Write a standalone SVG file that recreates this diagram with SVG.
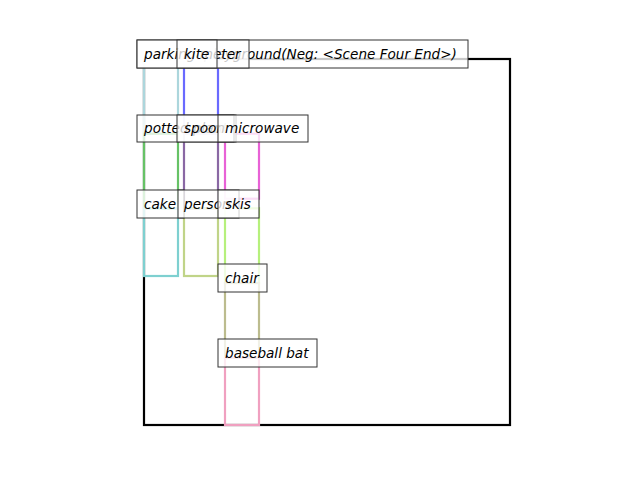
<svg xmlns="http://www.w3.org/2000/svg" width="640" height="480" viewBox="0 0 640 480">
<style>
.b{fill:none;stroke-width:2.2}
.lb{fill:#fff;fill-opacity:0.78;stroke:#333;stroke-width:1}
.t{font-family:"DejaVu Sans",sans-serif;font-style:italic;font-size:13.6px;fill:#000}
</style>
<rect width="640" height="480" fill="#fff"/>
<g id="scene">
<rect class="b" x="144" y="59" width="366" height="366" stroke="#000"/>
</g>
<g id="boxes">
<rect id="parking-meter" class="b" x="144" y="59" width="34" height="74.7" stroke="#acd6dc"/>
<rect id="kite" class="b" x="184" y="59" width="34" height="74.7" stroke="#6a6aff"/>
<rect id="potted-plant" class="b" x="144" y="133.7" width="34" height="74.6" stroke="#66c266"/>
<rect id="spoon" class="b" x="184" y="133.7" width="34" height="74.6" stroke="#8a68a4"/>
<rect id="microwave" class="b" x="225" y="133.7" width="34" height="65" stroke="#e862d6"/>
<rect id="cake" class="b" x="144" y="208.3" width="34" height="67.7" stroke="#7ed0d0"/>
<rect id="person" class="b" x="184" y="208.3" width="34" height="67.7" stroke="#c0d488"/>
<rect id="skis" class="b" x="225" y="208.3" width="34" height="74.7" stroke="#b6f07c"/>
<rect id="chair" class="b" x="225" y="283" width="34" height="74.7" stroke="#bcbc8e"/>
<rect id="baseball-bat" class="b" x="225" y="357.7" width="34" height="67.3" stroke="#f0a0c0"/>
</g>
<g id="labels">
<g id="lbl-playground"><rect class="lb" x="137" y="40" width="331" height="28"/><text class="t" x="204" y="58.5">playground(Neg: &lt;Scene Four End&gt;)</text></g>
<g id="lbl-parking-meter"><rect class="lb" x="137" y="40" width="112" height="28"/><text class="t" x="144" y="58.5">parking meter</text></g>
<g id="lbl-kite"><rect class="lb" x="177" y="40" width="40" height="28"/><text class="t" x="184" y="58.5">kite</text></g>
<g id="lbl-potted-plant"><rect class="lb" x="137" y="115" width="99" height="27"/><text class="t" x="144" y="133">potted plant</text></g>
<g id="lbl-spoon"><rect class="lb" x="177" y="115" width="57" height="27"/><text class="t" x="184" y="133">spoon</text></g>
<g id="lbl-microwave"><rect class="lb" x="218" y="115" width="90" height="27"/><text class="t" x="225" y="133">microwave</text></g>
<g id="lbl-cake"><rect class="lb" x="137" y="190" width="47" height="28"/><text class="t" x="144" y="208.5">cake</text></g>
<g id="lbl-person"><rect class="lb" x="178" y="190" width="61" height="28"/><text class="t" x="184" y="208.5">person</text></g>
<g id="lbl-skis"><rect class="lb" x="218" y="190" width="41" height="28"/><text class="t" x="225" y="208.5">skis</text></g>
<g id="lbl-chair"><rect class="lb" x="218" y="264" width="49" height="28"/><text class="t" x="225" y="282.5">chair</text></g>
<g id="lbl-baseball-bat"><rect class="lb" x="218" y="339" width="99" height="28"/><text class="t" x="225" y="357.5">baseball bat</text></g>
</g>
</svg>
